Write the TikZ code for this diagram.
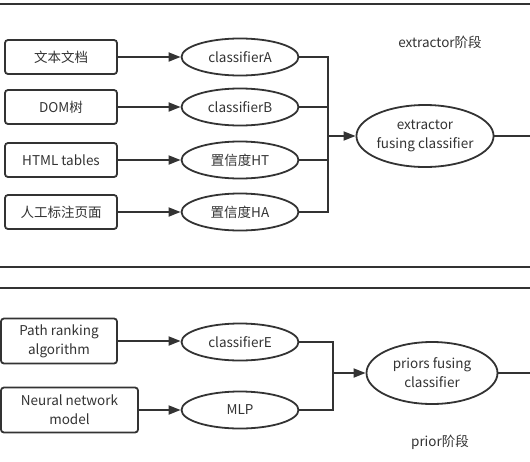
\documentclass[tikz,border=0pt]{standalone}
\usepackage{fontspec}
\setmainfont{Noto Sans CJK SC}
\usetikzlibrary{arrows.meta,shapes.geometric}
\definecolor{ink}{HTML}{333333}
\tikzset{
    box/.style={draw=ink,line width=1.8pt,rounded corners=3pt,text=ink,align=center,minimum height=34pt,inner sep=2pt},
    oval/.style={draw=ink,line width=1.8pt,ellipse,text=ink,align=center,minimum width=117pt,minimum height=37pt,inner sep=0pt},
    conn/.style={draw=ink,line width=1.8pt},
    arr/.style={conn,-{Triangle[length=12pt,width=9pt]}}
}
\begin{document}
\begin{tikzpicture}[x=1pt,y=-1pt,font=\fontsize{13.5}{19}\selectfont]
    \useasboundingbox (0,0) rectangle (530,461);
    % section rules
    \draw[ink,line width=1.8pt] (0,4) -- (530,4);
    \draw[ink,line width=1.8pt] (0,267) -- (530,267);
    \draw[ink,line width=1.8pt] (0,288) -- (530,288);
    % extractor stage
    \node[box,minimum width=112pt] (doc) at (61,57) {文本文档};
    \node[box,minimum width=112pt] (dom) at (61,107) {DOM树};
    \node[box,minimum width=112pt] (tab) at (61,160) {HTML tables};
    \node[box,minimum width=112pt] (man) at (61,212) {人工标注页面};
    \node[oval] (cA) at (240,57) {classifierA};
    \node[oval] (cB) at (240,107) {classifierB};
    \node[oval] (cHT) at (240,160) {置信度HT};
    \node[oval] (cHA) at (240,212) {置信度HA};
    \node[oval,minimum width=131pt,minimum height=62pt] (fuse) at (425,136) {extractor\\fusing classifier};
    \node[text=ink] (stA) at (440,42) {extractor阶段};
    \draw[arr] (doc) -- (cA);
    \draw[arr] (dom) -- (cB);
    \draw[arr] (tab) -- (cHT);
    \draw[arr] (man) -- (cHA);
    \coordinate (jA) at (328,136);
    \draw[conn] (cA.east) -| (jA);
    \draw[conn] (cHA.east) -| (jA);
    \draw[conn] (cB.east) -- (cB.east -| jA);
    \draw[conn] (cHT.east) -- (cHT.east -| jA);
    \draw[arr] (jA) -- (fuse);
    \coordinate (outA) at (530,136);
    \draw[conn] (fuse) -- (outA);
    % prior stage
    \node[box,minimum width=116pt,minimum height=45pt] (path) at (59,341) {Path ranking\\algorithm};
    \node[box,minimum width=137pt,minimum height=45pt] (nn) at (69.5,410) {Neural network\\model};
    \node[oval] (cE) at (240,342) {classifierE};
    \node[oval] (mlp) at (240,410) {MLP};
    \node[oval,minimum width=131pt,minimum height=62pt] (prior) at (432,373) {priors fusing\\classifier};
    \node[text=ink] (stB) at (440,442) {prior阶段};
    \draw[arr] (path) -- (path -| cE.west);
    \draw[arr] (nn) -- (mlp);
    \coordinate (jB) at (333,373);
    \draw[conn] (cE.east) -| (jB);
    \draw[conn] (mlp.east) -| (jB);
    \draw[arr] (jB) -- (prior);
    \coordinate (outB) at (530,373);
    \draw[conn] (prior) -- (outB);
\end{tikzpicture}
\end{document}
